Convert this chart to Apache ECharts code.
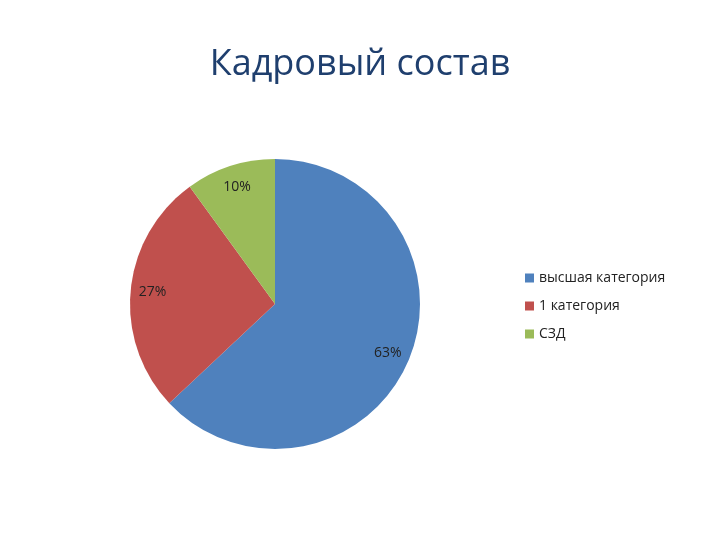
<!DOCTYPE html>
<html>
<head>
<meta charset="utf-8">
<script src="https://cdn.jsdelivr.net/npm/echarts@6/dist/echarts.min.js"></script>
<style>html,body{margin:0;padding:0;background:#fff}</style>
</head>
<body>
<div id="chart" style="width:720px;height:540px"></div>
<script>
var categories = ['высшая категория', '1 категория', 'СЗД'];
var values = [63, 27, 10];
var colors = ['#4f81bd', '#c0504d', '#9bbb59'];

var pieData = categories.map(function (name, i) {
    return { name: name, value: values[i], itemStyle: { color: colors[i] } };
});

var myChart = echarts.init(document.getElementById('chart'));
myChart.setOption({
    animation: false,
    title: {
        text: 'Кадровый состав',
        left: 'center',
        top: 42,
        textStyle: { fontFamily: 'Open Sans', fontSize: 36, fontWeight: 'normal', color: '#1f3f6e' }
    },
    legend: {
        orient: 'vertical',
        left: 520,
        top: 266,
        itemWidth: 9,
        itemHeight: 9,
        itemGap: 14,
        icon: 'rect',
        data: categories,
        textStyle: { fontFamily: 'Open Sans', fontSize: 14, color: '#222' }
    },
    series: [{
        type: 'pie',
        center: [275, 304],
        radius: [0, 145],
        startAngle: 90,
        clockwise: true,
        label: { show: false },
        labelLine: { show: false },
        emphasis: { disabled: true },
        data: pieData
    }, {
        // прозрачное кольцо только для подписей
        type: 'pie',
        center: [275, 304],
        radius: [95, 145],
        startAngle: 90,
        silent: true,
        itemStyle: { color: 'rgba(0,0,0,0)' },
        label: {
            show: true,
            position: 'inside',
            formatter: '{c}%',
            fontFamily: 'Open Sans',
            fontSize: 14,
            color: '#222'
        },
        labelLine: { show: false },
        data: categories.map(function (name, i) { return { name: name, value: values[i] }; })
    }]
});
</script>
</body>
</html>
